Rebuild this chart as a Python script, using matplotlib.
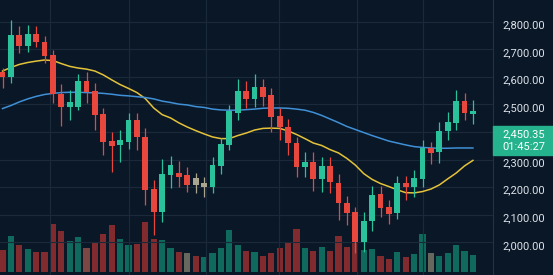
import matplotlib
matplotlib.use("Agg")
import matplotlib.pyplot as plt
from matplotlib.patches import Rectangle
from matplotlib.ticker import FuncFormatter
from matplotlib.transforms import ScaledTranslation
import numpy as np

# OHLC (57 sessions, oldest first)
opens = [2619, 2600, 2752, 2712, 2755, 2727, 2679, 2538, 2490, 2492,
         2585, 2550, 2465, 2367, 2353, 2365, 2444, 2383, 2193, 2110,
         2244, 2252, 2244, 2208, 2215, 2201, 2278, 2353, 2470, 2550,
         2520, 2563, 2534, 2458, 2419, 2360, 2272, 2292, 2230, 2278,
         2216, 2141, 2109, 2002, 2078, 2174, 2128, 2105, 2216, 2201,
         2228, 2341, 2328, 2404, 2434, 2512, 2465]
closes = [2600, 2752, 2713, 2755, 2726, 2677, 2538, 2492, 2510, 2585,
          2546, 2462, 2365, 2349, 2371, 2444, 2382, 2190, 2110, 2248,
          2280, 2238, 2208, 2233, 2201, 2280, 2356, 2476, 2550, 2519,
          2563, 2528, 2455, 2419, 2360, 2274, 2292, 2230, 2278, 2218,
          2141, 2105, 2002, 2078, 2171, 2123, 2104, 2214, 2199, 2232,
          2341, 2325, 2404, 2437, 2512, 2468, 2476]
highs = [2633, 2806, 2784, 2788, 2784, 2748, 2697, 2574, 2552, 2610,
         2618, 2579, 2487, 2401, 2407, 2469, 2469, 2414, 2226, 2302,
         2313, 2295, 2274, 2252, 2238, 2310, 2378, 2498, 2592, 2585,
         2610, 2592, 2560, 2487, 2447, 2383, 2329, 2329, 2310, 2310,
         2248, 2168, 2129, 2111, 2204, 2204, 2153, 2240, 2240, 2262,
         2371, 2365, 2437, 2473, 2552, 2543, 2516]
lows = [2558, 2577, 2687, 2691, 2708, 2650, 2505, 2422, 2444, 2480,
        2505, 2407, 2317, 2256, 2292, 2338, 2335, 2135, 2026, 2075,
        2197, 2202, 2183, 2179, 2164, 2180, 2248, 2335, 2444, 2488,
        2492, 2494, 2401, 2371, 2317, 2237, 2237, 2185, 2182, 2178,
        2081, 2063, 1961, 1966, 2042, 2093, 2066, 2083, 2153, 2165,
        2201, 2283, 2289, 2371, 2407, 2444, 2428]
flat_days = [23, 24]  # greyed-out candles

# volume (K) and bar side: u up, d down, m muted down, n neutral
volumes = [217, 357, 267, 230, 194, 194, 477, 410, 310, 350,
           237, 300, 377, 467, 324, 267, 277, 497, 327, 317,
           237, 197, 184, 160, 150, 184, 234, 417, 270, 210,
           200, 157, 184, 237, 290, 427, 237, 207, 250, 210,
           357, 250, 300, 217, 227, 157, 130, 194, 150, 177,
           374, 184, 160, 184, 267, 210, 167]
vol_side = "dududddduu" "mddduudddu" "udnduuuuud" "udddddudud" "ddduuddudu" "unuuuuu"

# moving averages
ma_fast = [2621, 2634, 2645, 2652, 2657, 2661, 2659, 2648, 2638, 2632,
           2628, 2621, 2607, 2589, 2572, 2558, 2543, 2521, 2487, 2463,
           2451, 2433, 2418, 2405, 2393, 2382, 2376, 2376, 2387, 2396,
           2407, 2413, 2414, 2413, 2404, 2391, 2376, 2360, 2351, 2336,
           2324, 2304, 2280, 2249, 2228, 2213, 2202, 2190, 2180, 2179,
           2184, 2193, 2208, 2230, 2251, 2277, 2297]
ma_slow = [2485, 2496, 2509, 2520, 2529, 2536, 2540, 2543, 2544, 2544,
           2543, 2542, 2540, 2537, 2533, 2531, 2528, 2525, 2520, 2512,
           2507, 2501, 2498, 2492, 2489, 2483, 2480, 2479, 2479, 2481,
           2483, 2486, 2487, 2487, 2486, 2483, 2479, 2471, 2460, 2447,
           2434, 2420, 2409, 2398, 2387, 2377, 2367, 2360, 2353, 2347,
           2344, 2342, 2341, 2341, 2342, 2342, 2342]

price_ticks = [2000, 2100, 2200, 2300, 2400, 2500, 2600, 2700, 2800]
last_price = "2,450.35"
countdown = "01:45:27"

bg = "#0a1727"
up_col = "#29c29a"
down_col = "#e8473d"
flat_col = "#aaa58e"
grid_col = "#1b2a3b"
vol_cols = {"u": "#0f695c", "d": "#812b2e", "m": "#7a4742", "n": "#66675d"}

W, H = 553, 275
fig = plt.figure(figsize=(W / 100, H / 100), dpi=100, facecolor=bg)
pos = [0, 0, 493 / W, 1]

ax = fig.add_axes(pos)
axv = ax.twinx()
ax.set_zorder(2)
ax.patch.set_visible(False)
axv.set_facecolor(bg)

x = np.arange(len(opens))
o = np.array(opens)
c = np.array(closes)

cols = [up_col if cc >= oo else down_col for oo, cc in zip(o, c)]
for i in flat_days:
    cols[i] = flat_col

ax.vlines(x, lows, highs, colors=cols, lw=0.9, zorder=3)
ax.bar(x, np.maximum(np.abs(c - o), 6), bottom=np.minimum(o, c), width=0.7,
       color=cols, zorder=4)

ax.plot(x, ma_fast, color="#e4c33a", lw=1.1, zorder=2)
ax.plot(x, ma_slow, color="#3f90d6", lw=1.1, zorder=2)

axv.bar(x, volumes, width=0.75, color=[vol_cols[s] for s in vol_side], zorder=1)
axv.set_ylim(-33, 2717)
axv.axis("off")

ax.set_xlim(-0.3, 58.39)
ax.set_ylim(1881.3, 2878.7)

# grid
ax.set_yticks(price_ticks)
ax.set_xticks([5.65, 15.05, 24.2, 32.9, 42.2, 50.0])
ax.grid(True, color=grid_col, lw=0.8)
ax.set_axisbelow(True)
for s in ["left", "top", "bottom"]:
    ax.spines[s].set_visible(False)
ax.spines["right"].set_color("#243244")
ax.spines["right"].set_linewidth(0.8)

ax.yaxis.tick_right()
ax.tick_params(axis="y", length=0, pad=7, labelsize=8, labelcolor="#dde2e8")
ax.tick_params(axis="x", length=0, labelbottom=False)
ax.yaxis.set_major_formatter(FuncFormatter(lambda v, _: f"{v:,.2f}"))
shift = ScaledTranslation(0, -2.5 / 100, fig.dpi_scale_trans)
for lab in ax.get_yticklabels():
    lab.set_fontfamily("Roboto")
    lab.set_transform(lab.get_transform() + shift)

# last price tag
fig.patches.append(Rectangle((493 / W, 1 - 155 / H), 60 / W, 29 / H,
                             transform=fig.transFigure, color="#25b38d", zorder=5))
fig.text(502.5 / W, 1 - 134 / H, last_price, color="white", fontsize=8,
         family="Roboto", va="center", ha="left", zorder=6)
fig.text(502.5 / W, 1 - 146.5 / H, countdown, color="white", fontsize=8,
         family="Roboto", va="center", ha="left", zorder=6)

fig.savefig("out.png", dpi=100, facecolor=bg)
